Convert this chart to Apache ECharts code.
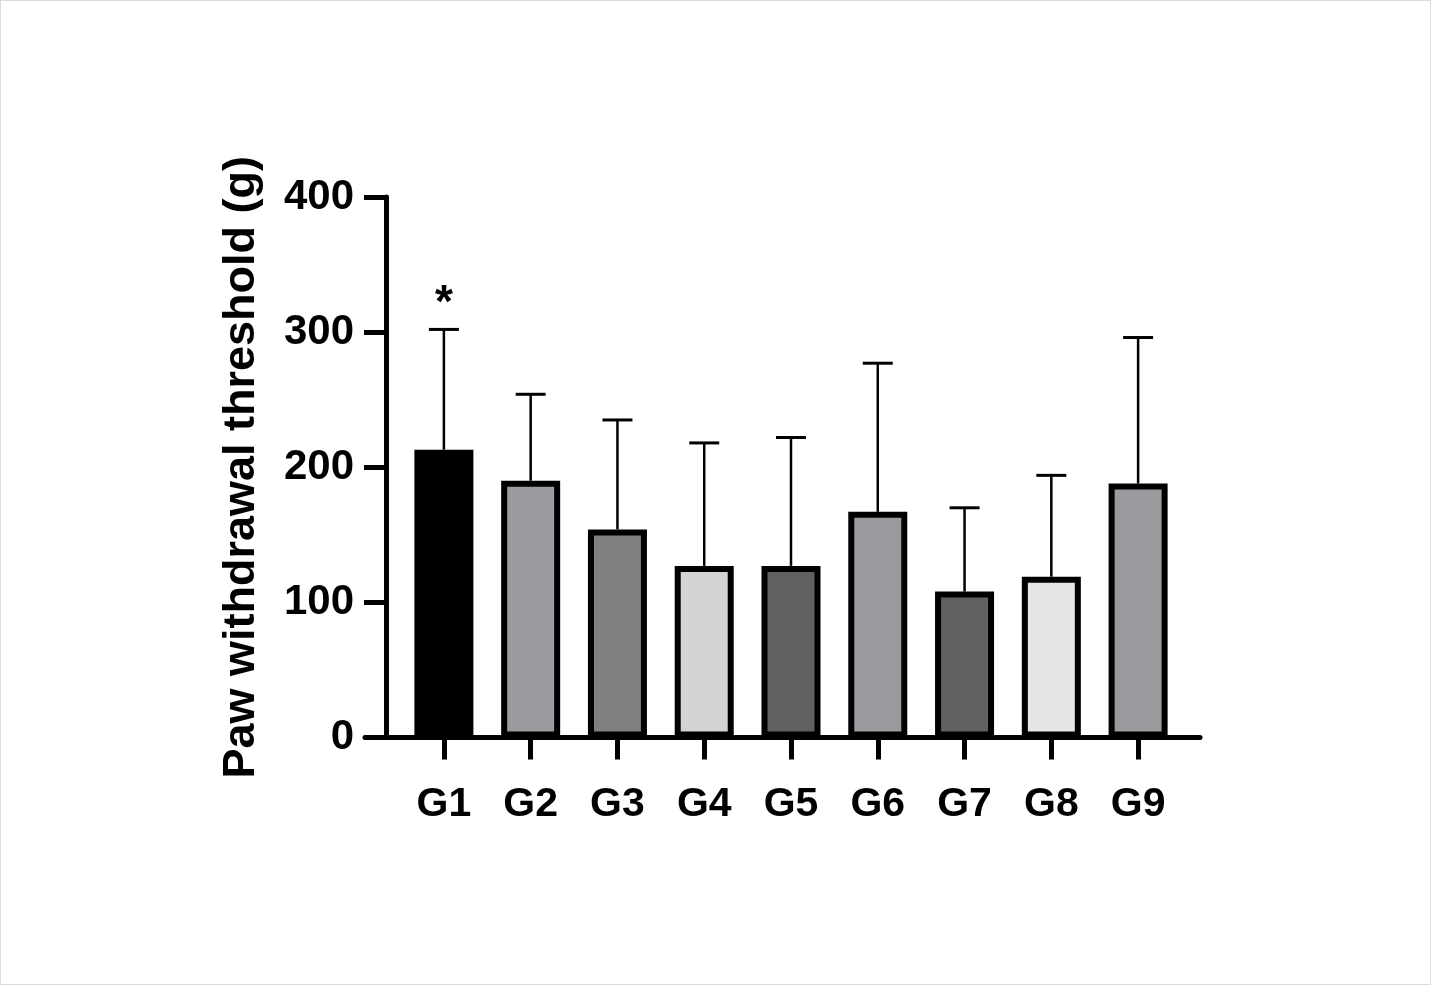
<!DOCTYPE html>
<html>
<head>
<meta charset="utf-8">
<script src="https://cdn.jsdelivr.net/npm/echarts@6/dist/echarts.min.js"></script>
<style>
html,body{margin:0;padding:0;background:#fff;}
#chart{width:1431px;height:985px;box-sizing:border-box;border:1px solid #dcdcdc;}
</style>
</head>
<body>
<div id="chart"></div>
<script>
const categories = ['G1','G2','G3','G4','G5','G6','G7','G8','G9'];
const means = [213, 190, 154, 127, 127, 167, 108, 119, 188];
const errorTops = [302, 254, 235, 218, 222, 277, 170, 194, 296];
const significance = ['*', '', '', '', '', '', '', '', ''];
const barColors = ['#000000','#9b9a9f','#808080','#d3d3d3','#606060','#9b9a9f','#606060','#e6e6e6','#9b9a9f'];
const yTicks = [0, 100, 200, 300, 400];

const FONT = 'Liberation Sans, Arial, sans-serif';
const chart = echarts.init(document.getElementById('chart'));

const errData = categories.map((c, i) => [i, means[i], errorTops[i], significance[i]]);

chart.setOption({
  animation: false,
  grid: [
    {left: 399.5, right: 248.5, top: 196, bottom: 246.5, containLabel: false},
    {left: 364, right: 230, top: 196, bottom: 246.5, containLabel: false}
  ],
  xAxis: [
    {
      type: 'category', gridIndex: 0, data: categories,
      axisLine: {show: false},
      axisTick: {show: true, alignWithLabel: true, length: 22, lineStyle: {color: '#000', width: 5}},
      axisLabel: {color: '#000', fontSize: 41, fontWeight: 'bold', fontFamily: FONT, margin: 47}
    },
    {
      type: 'value', gridIndex: 1, min: 0, max: 1,
      axisLine: {show: true, lineStyle: {color: '#000', width: 5}},
      axisTick: {show: false}, axisLabel: {show: false}, splitLine: {show: false}
    }
  ],
  yAxis: [
    {
      type: 'value', gridIndex: 0, min: 0, max: 400, interval: 100, offset: 14.5,
      name: 'Paw withdrawal threshold (g)', nameLocation: 'middle', nameGap: 122,
      nameTextStyle: {color: '#000', fontSize: 45, fontWeight: 'bold', fontFamily: FONT},
      axisLine: {show: true, lineStyle: {color: '#000', width: 5}},
      axisTick: {show: true, length: 22, lineStyle: {color: '#000', width: 5}},
      axisLabel: {color: '#000', fontSize: 42, fontWeight: 'bold', fontFamily: FONT, margin: 32,
        formatter: v => yTicks.includes(v) ? String(v) : ''},
      splitLine: {show: false}
    },
    {
      type: 'value', gridIndex: 1, min: 0, max: 1, show: false
    }
  ],
  series: [
    {
      type: 'bar', xAxisIndex: 0, yAxisIndex: 0, barWidth: 59, z: 3,
      data: means.map((v, i) => ({value: v, itemStyle: {color: barColors[i]}})),
      itemStyle: {borderColor: '#000', borderWidth: 6}
    },
    {
      type: 'custom', xAxisIndex: 0, yAxisIndex: 0, z: 2,
      data: errData,
      renderItem: function (params, api) {
        const i = api.value(0);
        const base = api.coord([i, api.value(1)]);
        const top = api.coord([i, api.value(2)]);
        const half = 15;
        const children = [
          {type: 'line', shape: {x1: base[0], y1: base[1], x2: top[0], y2: top[1]}, style: {stroke: '#000', lineWidth: 2.5}},
          {type: 'line', shape: {x1: top[0] - half, y1: top[1], x2: top[0] + half, y2: top[1]}, style: {stroke: '#000', lineWidth: 3}}
        ];
        const mark = errData[params.dataIndex][3];
        if (mark) {
          children.push({type: 'text', x: top[0], y: top[1] - 2,
            style: {text: mark, fill: '#000', font: 'bold 46px ' + FONT, align: 'center', verticalAlign: 'bottom'}});
        }
        return {type: 'group', children: children};
      }
    }
  ]
});
</script>
</body>
</html>
